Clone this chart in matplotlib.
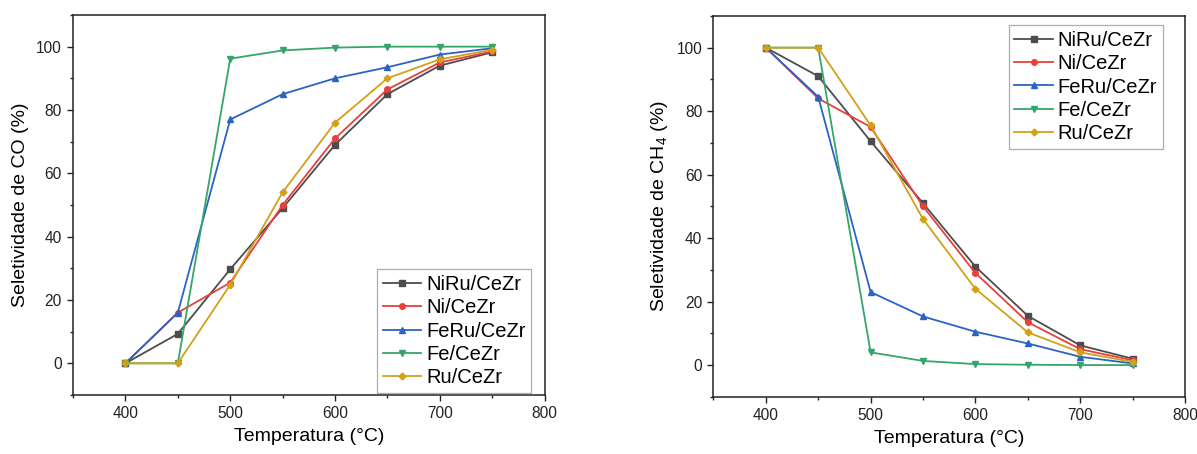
import matplotlib
matplotlib.use("Agg")
import matplotlib.pyplot as plt
from matplotlib.ticker import MultipleLocator

plt.rcParams["font.family"] = ["Liberation Sans", "DejaVu Sans"]
plt.rcParams["mathtext.fontset"] = "custom"
plt.rcParams["mathtext.rm"] = "Liberation Sans"
plt.rcParams["mathtext.it"] = "Liberation Sans"

# temperatures (°C)
temp = [400, 450, 500, 550, 600, 650, 700, 750]

labels = ["NiRu/CeZr", "Ni/CeZr", "FeRu/CeZr", "Fe/CeZr", "Ru/CeZr"]
colors = ["#4d4d4d", "#e8403c", "#2b63c4", "#35a56a", "#d3a01a"]
markers = ["s", "o", "^", "v", "D"]

# selectividade de CO (%)
co_niru = [0, 9.3, 29.7, 49, 69, 85, 94, 98.2]
co_ni = [0, 16, 25.5, 50, 71, 86.5, 95, 98.5]
co_feru = [0, 16, 77, 85, 90, 93.5, 97.5, 99.5]
co_fe = [0, 0, 96.2, 98.8, 99.7, 100, 100, 100]
co_ru = [0, 0, 24.8, 54, 76, 90, 96, 99]

# selectividade de CH4 (%)
ch4_niru = [100, 91, 70.5, 51, 31, 15.5, 6.2, 2]
ch4_ni = [100, 84, 75, 50, 29, 13.5, 5, 1.5]
ch4_feru = [100, 84.5, 23, 15.3, 10.5, 6.8, 2.6, 0.5]
ch4_fe = [100, 100, 4, 1.3, 0.3, 0.1, 0, 0]
ch4_ru = [100, 100, 75.5, 46, 24, 10.3, 4, 1]

co_series = [co_niru, co_ni, co_feru, co_fe, co_ru]
ch4_series = [ch4_niru, ch4_ni, ch4_feru, ch4_fe, ch4_ru]

fig = plt.figure(figsize=(11.97, 4.54), dpi=100)
ax1 = fig.add_axes([0.061, 0.130, 0.394, 0.837])
ax2 = fig.add_axes([0.596, 0.126, 0.394, 0.839])


def style_axes(ax, ylabel):
    ax.set_xlim(350, 800)
    ax.set_ylim(-10, 110)
    ax.xaxis.set_major_locator(MultipleLocator(100))
    ax.xaxis.set_minor_locator(MultipleLocator(50))
    ax.yaxis.set_major_locator(MultipleLocator(20))
    ax.yaxis.set_minor_locator(MultipleLocator(10))
    ax.tick_params(which="both", direction="out", top=False, right=False,
                   width=1.0, colors="#222222", labelsize=11.2)
    ax.tick_params(which="major", length=4.5)
    ax.tick_params(which="minor", length=2.5)
    for s in ax.spines.values():
        s.set_linewidth(1.1)
        s.set_color("#222222")
    ax.set_xlabel("Temperatura (°C)", fontsize=14, labelpad=5)
    ax.set_ylabel(ylabel, fontsize=14, labelpad=5)


for ys, lab, c, m in zip(co_series, labels, colors, markers):
    ms = 3.5 if m == "D" else 4
    ax1.plot(temp, ys, color=c, marker=m, markersize=ms, linewidth=1.3, label=lab)

for ys, lab, c, m in zip(ch4_series, labels, colors, markers):
    ms = 3.5 if m == "D" else 4
    ax2.plot(temp, ys, color=c, marker=m, markersize=ms, linewidth=1.3, label=lab)

style_axes(ax1, "Seletividade de CO (%)")
style_axes(ax2, "Seletividade de CH$_4$ (%)")

leg_kw = dict(fontsize=14.5, frameon=True, fancybox=False, edgecolor="#999999",
              handlelength=1.9, handletextpad=0.25, labelspacing=0.22,
              borderpad=0.28, borderaxespad=0.0)
leg1 = ax1.legend(loc="lower right", bbox_to_anchor=(0.972, 0.005), **leg_kw)
leg2 = ax2.legend(loc="upper right", bbox_to_anchor=(0.953, 0.976), **leg_kw)
for leg in (leg1, leg2):
    leg.get_frame().set_linewidth(0.9)

fig.savefig("out.png", dpi=100)
